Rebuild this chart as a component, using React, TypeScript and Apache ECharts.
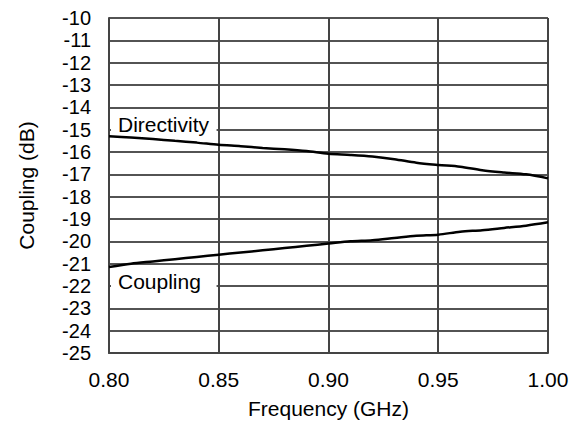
import React, { useEffect, useRef } from "react";
import * as echarts from "echarts";

const freq = [0.8, 0.81, 0.82, 0.83, 0.84, 0.85, 0.86, 0.87, 0.88, 0.89, 0.9, 0.91, 0.92, 0.93, 0.94, 0.95, 0.96, 0.97, 0.98, 0.99, 1.0];
const directivity = [-15.3, -15.35, -15.42, -15.5, -15.58, -15.68, -15.74, -15.82, -15.88, -15.96, -16.08, -16.13, -16.2, -16.32, -16.48, -16.58, -16.66, -16.82, -16.92, -17.0, -17.18];
const coupling = [-21.15, -21.0, -20.9, -20.8, -20.7, -20.6, -20.5, -20.4, -20.3, -20.2, -20.1, -20.0, -19.95, -19.85, -19.75, -19.7, -19.57, -19.5, -19.4, -19.3, -19.15];
const xTicks = { min: 0.8, max: 1.0, interval: 0.05 };
const yTicks = { min: -25, max: -10, interval: 1 };
const annotations = [
  { text: "Directivity", x: 0.8, y: -14.75, top: -14.18, bottom: -15.22 },
  { text: "Coupling", x: 0.8, y: -21.8, top: -21.25, bottom: -22.35 },
];

const FONT = "'Liberation Sans', Arial, Helvetica, sans-serif";

export default function App() {
  const ref = useRef<HTMLDivElement>(null);
  useEffect(() => {
    if (!ref.current) return;
    const chart = echarts.init(ref.current, undefined, { renderer: "svg" });
    chart.setOption({
      animation: false,
      backgroundColor: "#fff",
      grid: { left: 100, right: 26, top: 10, bottom: 68 },
      xAxis: {
        type: "value",
        min: xTicks.min,
        max: xTicks.max,
        interval: xTicks.interval,
        name: "Frequency (GHz)",
        nameLocation: "middle",
        nameGap: 45,
        nameTextStyle: { color: "#000", fontSize: 21, fontFamily: FONT },
        axisLine: { show: true, lineStyle: { color: "#444", width: 2 } },
        axisTick: { show: false },
        axisLabel: {
          color: "#000",
          fontSize: 21,
          fontFamily: FONT,
          margin: 16,
          formatter: (v: number) => v.toFixed(2),
        },
        splitLine: { show: true, lineStyle: { color: "#444", width: 2 } },
      },
      yAxis: {
        type: "value",
        min: yTicks.min,
        max: yTicks.max,
        interval: yTicks.interval,
        name: "Coupling (dB)",
        nameLocation: "middle",
        nameGap: 72,
        nameTextStyle: { color: "#000", fontSize: 21, fontFamily: FONT },
        axisLine: { show: true, lineStyle: { color: "#444", width: 2 } },
        axisTick: { show: false },
        axisLabel: { color: "#000", fontSize: 20, fontFamily: FONT, margin: 18 },
        splitLine: { show: true, lineStyle: { color: "#1a1a1a", width: 1.5 } },
      },
      series: [
        {
          name: "Directivity",
          type: "line",
          data: freq.map((f, i) => [f, directivity[i]]),
          showSymbol: false,
          smooth: 0.3,
          lineStyle: { color: "#000", width: 2.5 },
          z: 5,
        },
        {
          name: "Coupling",
          type: "line",
          data: freq.map((f, i) => [f, coupling[i]]),
          showSymbol: false,
          smooth: 0.3,
          lineStyle: { color: "#000", width: 2.5 },
          z: 5,
        },
      ],
    });
    const graphic: any[] = [];
    annotations.forEach((a) => {
      const p0 = chart.convertToPixel({ gridIndex: 0 }, [a.x, a.top]) as number[];
      const p1 = chart.convertToPixel({ gridIndex: 0 }, [0.849, a.bottom]) as number[];
      const pt = chart.convertToPixel({ gridIndex: 0 }, [a.x, a.y]) as number[];
      graphic.push({
        type: "rect",
        shape: { x: p0[0] + 2, y: p0[1], width: p1[0] - p0[0] - 2, height: p1[1] - p0[1] },
        style: { fill: "#fff" },
        z: 10,
      });
      graphic.push({
        type: "text",
        x: pt[0] + 9,
        y: pt[1],
        style: {
          text: a.text,
          fill: "#000",
          fontSize: 21,
          fontFamily: FONT,
          verticalAlign: "middle",
          align: "left",
        },
        z: 11,
      });
    });
    chart.setOption({ graphic });
    return () => chart.dispose();
  }, []);
  return <div ref={ref} style={{ width: 566, height: 416 }} />;
}
